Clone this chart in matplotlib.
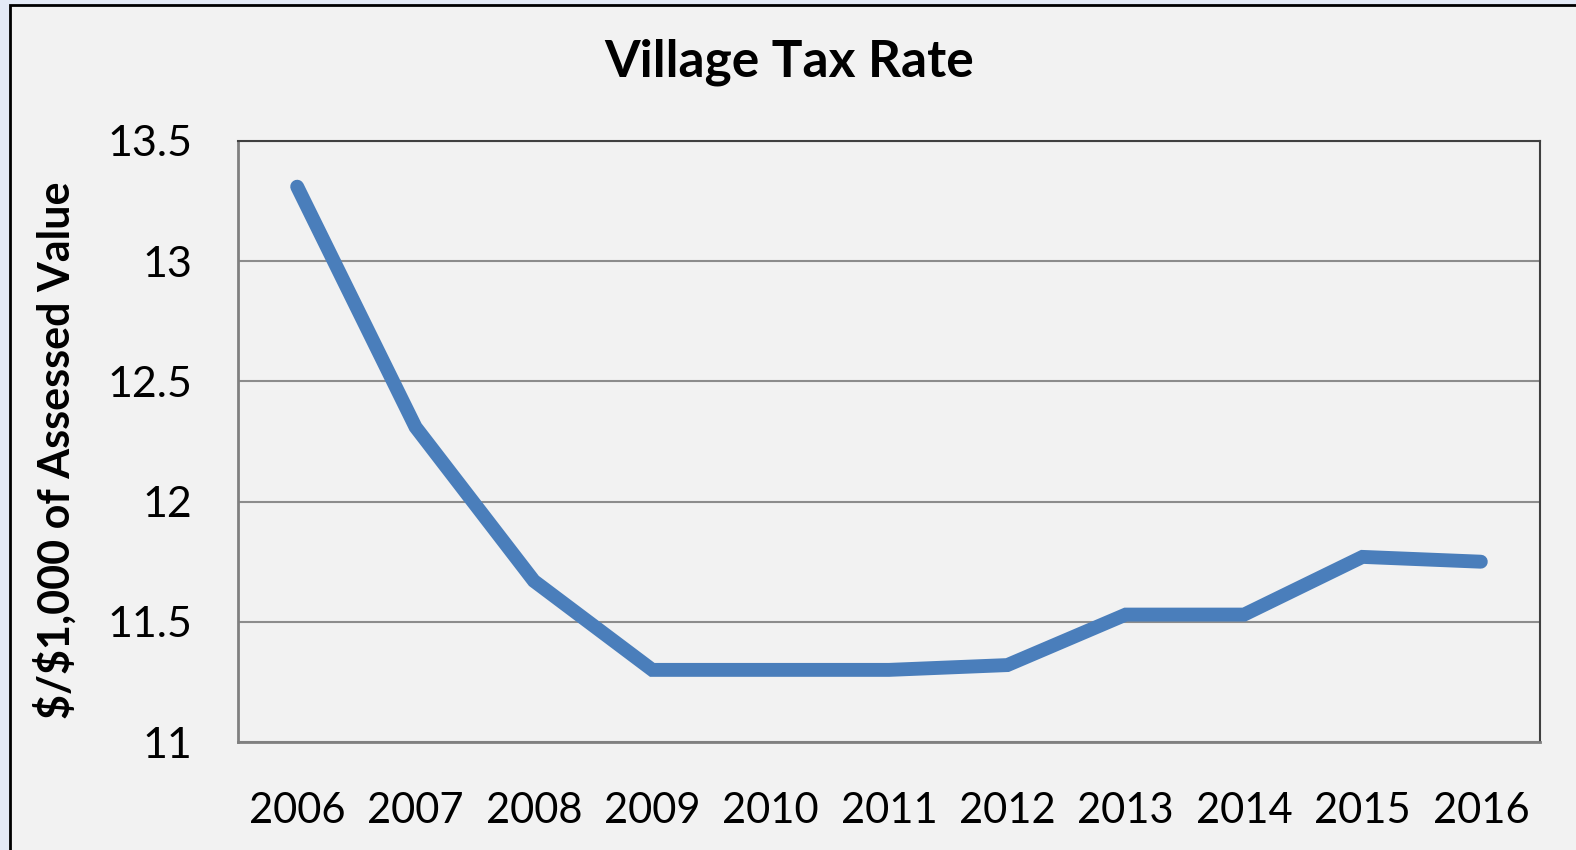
import matplotlib
matplotlib.use("Agg")
import matplotlib.pyplot as plt
from matplotlib.patches import Rectangle

years = ["2006", "2007", "2008", "2009", "2010", "2011", "2012", "2013", "2014", "2015", "2016"]
rate = [13.31, 12.31, 11.67, 11.30, 11.30, 11.30, 11.32, 11.53, 11.53, 11.77, 11.75]
yticks = [11, 11.5, 12, 12.5, 13, 13.5]
ytick_labels = ["11", "11.5", "12", "12.5", "13", "13.5"]

plt.rcParams["font.family"] = ["Lato", "DejaVu Sans"]

fig = plt.figure(figsize=(15.76, 8.5), dpi=100)
fig.patch.set_facecolor("#e4eaf6")
# chart frame, kept behind the axes
frame = Rectangle((10 / 1576, -0.01), 1.0, 1 - 5 / 850 + 0.01,
                  transform=fig.transFigure, facecolor="#f2f2f2",
                  edgecolor="black", lw=2, zorder=-10)
fig.add_artist(frame)

ax = fig.add_axes([238 / 1576, 1 - 742 / 850, (1540 - 238) / 1576, (742 - 141) / 850])
ax.set_zorder(1)
ax.set_facecolor("#f2f2f2")
x = list(range(len(years)))
ax.plot(x, rate, color="#4a7ebb", lw=10, solid_capstyle="round", solid_joinstyle="miter", zorder=3)

ax.set_xlim(-0.5, len(years) - 0.5)
ax.set_ylim(11, 13.5)
ax.set_xticks(x)
ax.set_xticklabels(years, fontsize=30)
ax.set_yticks(yticks)
ax.set_yticklabels(ytick_labels, fontsize=31)
ax.tick_params(axis="both", length=0)
ax.tick_params(axis="x", pad=36)
ax.tick_params(axis="y", pad=33)
ax.grid(axis="y", color="#8c8c8c", lw=1.5)
ax.set_axisbelow(True)
for s in ["left", "bottom"]:
    ax.spines[s].set_color("#808080")
    ax.spines[s].set_linewidth(2)
for s in ["top", "right"]:
    ax.spines[s].set_color("#404040")
    ax.spines[s].set_linewidth(1.5)

ax.set_ylabel("\\$/\\$1,000 of Assessed Value", fontsize=31, fontweight="bold")
ax.yaxis.set_label_coords((77 - 238) / 1302, (742 - 450) / 601)
fig.text(789 / 1576, 1 - 62 / 850, "Village Tax Rate", ha="center", va="center",
         fontsize=37, fontweight="bold", zorder=2)

fig.savefig("out.png", dpi=100, facecolor=fig.get_facecolor())
